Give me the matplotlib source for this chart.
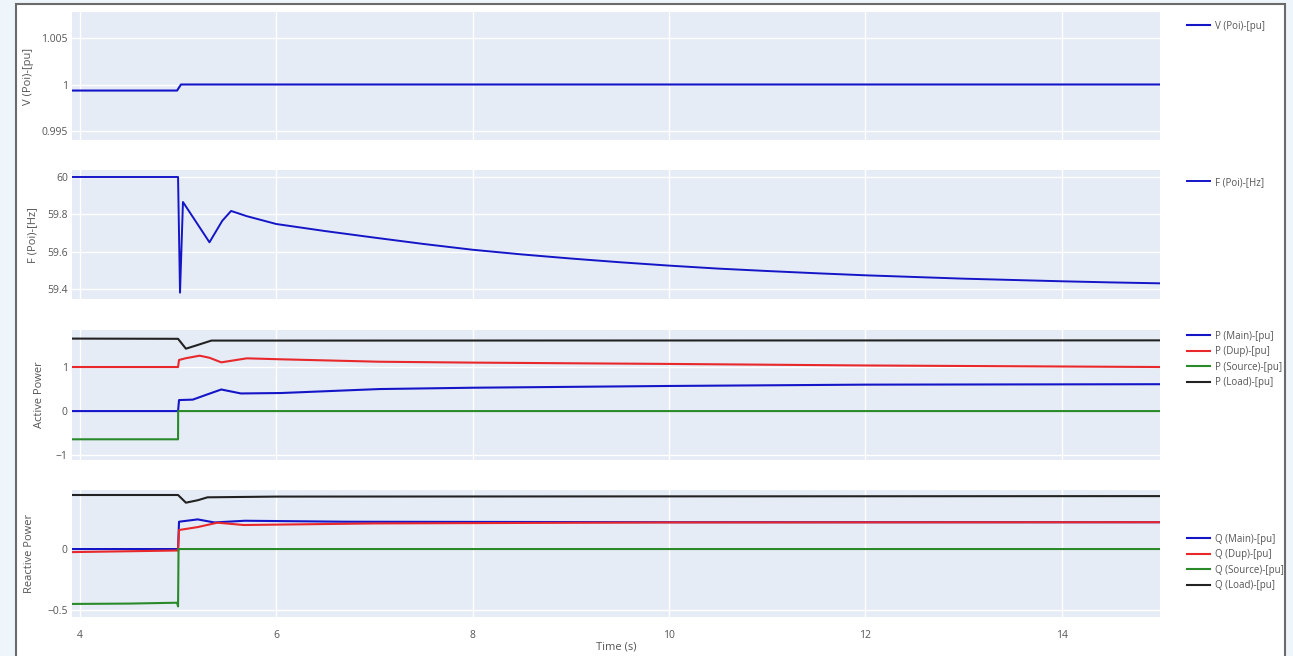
import matplotlib
matplotlib.use("Agg")
import matplotlib.pyplot as plt
from matplotlib.patches import Rectangle

plt.rcParams['font.family'] = ['Open Sans', 'DejaVu Sans']

# POI voltage
t_v = [3.92, 4.99, 5.03, 15.0]
v_poi = [0.99935, 0.99935, 1.0, 1.0]

# POI frequency
t_f = [3.92, 5.0, 5.02, 5.05, 5.15, 5.32, 5.45, 5.54, 5.7, 6.0, 6.5, 7.0, 7.5, 8.0,
       8.5, 9.0, 9.5, 10.0, 10.5, 11.0, 11.5, 12.0, 12.5, 13.0, 13.5, 14.0, 14.5, 15.0]
f_poi = [60.0, 60.0, 59.38, 59.866, 59.786, 59.65, 59.765, 59.818, 59.79, 59.748, 59.71,
         59.675, 59.641, 59.61, 59.585, 59.563, 59.543, 59.525, 59.509, 59.496, 59.484,
         59.473, 59.464, 59.455, 59.448, 59.441, 59.435, 59.43]

# active power
t_pm = [3.92, 5.0, 5.01, 5.15, 5.3, 5.44, 5.64, 6.05, 7.05, 8.0, 10.0, 12.0, 15.0]
p_main = [0.0, 0.0, 0.25, 0.26, 0.38, 0.49, 0.40, 0.41, 0.50, 0.53, 0.57, 0.60, 0.61]
t_pd = [3.92, 5.0, 5.01, 5.08, 5.22, 5.32, 5.44, 5.7, 6.05, 7.05, 8.0, 10.0, 12.0, 15.0]
p_dup = [1.0, 1.0, 1.16, 1.2, 1.257, 1.21, 1.106, 1.197, 1.175, 1.12, 1.1, 1.07, 1.035, 1.0]
t_ps = [3.92, 5.0, 5.001, 15.0]
p_source = [-0.64, -0.64, 0.0, 0.0]
t_pl = [3.92, 5.0, 5.08, 5.2, 5.34, 6.0, 15.0]
p_load = [1.645, 1.64, 1.416, 1.5, 1.6, 1.6, 1.605]

# reactive power
t_qm = [3.92, 5.0, 5.01, 5.2, 5.37, 5.68, 6.7, 10.0, 15.0]
q_main = [0.0, 0.0, 0.224, 0.243, 0.218, 0.232, 0.224, 0.22, 0.22]
t_qd = [3.92, 4.5, 5.0, 5.01, 5.2, 5.4, 5.67, 7.0, 10.0, 15.0]
q_dup = [-0.025, -0.018, -0.012, 0.156, 0.18, 0.216, 0.197, 0.21, 0.218, 0.22]
t_qs = [3.92, 4.5, 4.99, 5.0, 5.005, 15.0]
q_source = [-0.45, -0.447, -0.44, -0.47, 0.0, 0.0]
t_ql = [3.92, 5.0, 5.08, 5.2, 5.3, 6.0, 15.0]
q_load = [0.443, 0.443, 0.38, 0.4, 0.424, 0.43, 0.434]

x_ticks = [4, 6, 8, 10, 12, 14]

W, H = 1293, 656
fig = plt.figure(figsize=(W / 100, H / 100), dpi=100)
fig.patch.set_facecolor('#eef5fb')
# white page with a grey border behind everything
fig.patches.append(Rectangle((15.5 / W, -0.01), 1269 / W, 1.01 - 4.5 / H, transform=fig.transFigure,
                             facecolor='white', edgecolor='#6b6b6b', linewidth=1.5, zorder=-10))

BG = '#e5ecf6'
TXT = '#555555'
BLUE, RED, GREEN, BLACK = '#1515c8', '#e8282b', '#2a8a2a', '#222222'


def make_axes(top, bottom, ylim, yticks, yticklabels):
    ax = fig.add_axes([72 / W, 1 - bottom / H, (1160 - 72) / W, (bottom - top) / H])
    ax.set_facecolor(BG)
    ax.set_xlim(3.92, 15.0)
    ax.set_ylim(*ylim)
    ax.set_xticks(x_ticks)
    ax.set_yticks(yticks)
    ax.set_yticklabels(yticklabels)
    ax.grid(True, color='white', linewidth=1)
    ax.set_axisbelow(True)
    for s in ax.spines.values():
        s.set_visible(False)
    ax.tick_params(length=0, labelsize=7.5, colors=TXT, pad=3)
    ax.tick_params(axis='x', pad=9)
    return ax


ax1 = make_axes(12, 140, (0.99403, 1.0078), [0.995, 1.0, 1.005], ['0.995', '1', '1.005'])
ax2 = make_axes(170, 299, (59.346, 60.0375), [59.4, 59.6, 59.8, 60.0], ['59.4', '59.6', '59.8', '60'])
ax3 = make_axes(330, 460, (-1.11, 1.84), [-1, 0, 1], ['−1', '0', '1'])
ax4 = make_axes(490, 617, (-0.557, 0.484), [-0.5, 0], ['−0.5', '0'])

for ax in (ax1, ax2, ax3):
    ax.tick_params(axis='x', labelbottom=False)

lw = 1.5
ax1.plot(t_v, v_poi, color=BLUE, lw=lw, label='V (Poi)-[pu]')
ax2.plot(t_f, f_poi, color=BLUE, lw=1.4, label='F (Poi)-[Hz]')

ax3.plot(t_pm, p_main, color=BLUE, lw=lw, label='P (Main)-[pu]')
ax3.plot(t_pd, p_dup, color=RED, lw=lw, label='P (Dup)-[pu]')
ax3.plot(t_ps, p_source, color=GREEN, lw=lw, label='P (Source)-[pu]')
ax3.plot(t_pl, p_load, color=BLACK, lw=lw, label='P (Load)-[pu]')

ax4.plot(t_qm, q_main, color=BLUE, lw=lw, label='Q (Main)-[pu]')
ax4.plot(t_qd, q_dup, color=RED, lw=lw, label='Q (Dup)-[pu]')
ax4.plot(t_qs, q_source, color=GREEN, lw=lw, label='Q (Source)-[pu]')
ax4.plot(t_ql, q_load, color=BLACK, lw=lw, label='Q (Load)-[pu]')

# y-axis titles
ylabels = [('V (Poi)-[pu]', 28, 76), ('F (Poi)-[Hz]', 33, 235),
           ('Active Power', 40, 395), ('Reactive Power', 29, 553)]
for txt, x, y in ylabels:
    fig.text(x / W, 1 - y / H, txt, rotation=90, ha='center', va='center', fontsize=8, color=TXT)

fig.text(616 / W, 1 - 647 / H, 'Time (s)', ha='center', va='center', fontsize=8, color=TXT)

# legends to the right of each panel
for ax, ytop in ((ax1, 16), (ax2, 172), (ax3, 326), (ax4, 529)):
    ax.legend(loc='upper left', bbox_to_anchor=(1182 / W, 1 - ytop / H),
              bbox_transform=fig.transFigure, frameon=False, fontsize=7,
              handlelength=2.4, handletextpad=0.5, labelspacing=0.45, borderpad=0,
              labelcolor=TXT)

fig.savefig('out.png', dpi=100, facecolor=fig.get_facecolor())
